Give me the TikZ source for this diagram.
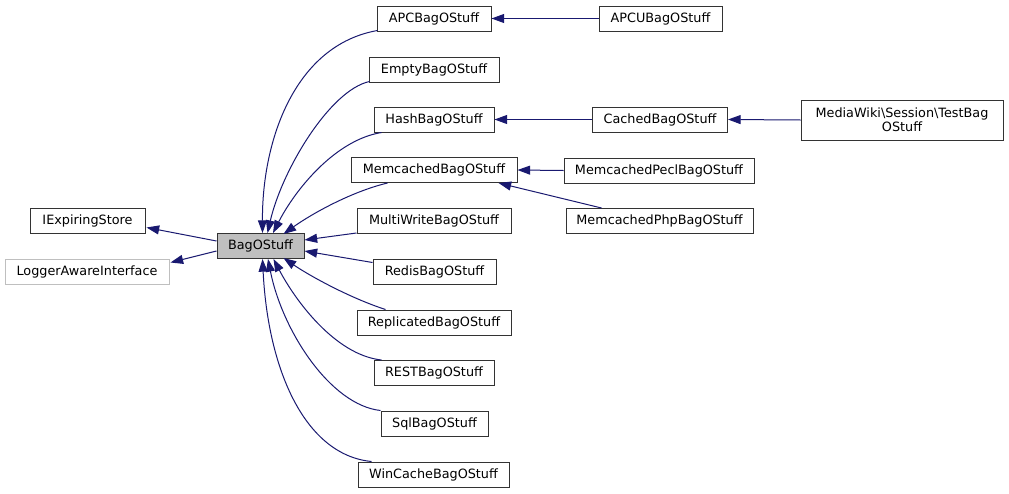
\documentclass[tikz,border=0pt]{standalone}
\usepackage{fontspec}
\setmainfont{DejaVu Sans}
\usetikzlibrary{arrows.meta,calc}
\definecolor{edgeblue}{HTML}{191970}
\definecolor{boxgray}{HTML}{BFBFBF}
\definecolor{boxline}{HTML}{333333}
\tikzset{
  cls/.style={draw=boxline, line width=0.75pt, fill=white, inner sep=0pt, minimum height=18.75pt, align=center, font=\fontsize{9.6pt}{10.5pt}\selectfont},
  bw/.style={minimum width=#1*0.75pt},
  bh/.style={minimum height=#1*0.75pt},
  ext/.style={cls, draw=boxgray},
  cur/.style={cls, fill=boxgray},
  edge/.style={draw=edgeblue, line width=0.75pt, {Triangle[length=9.5pt,width=6.75pt,fill=edgeblue]}-},
}
\begin{document}
\begin{tikzpicture}[x=0.75pt,y=-0.75pt]
\useasboundingbox[fill=white] (0,0) rectangle (1009,493);
% nodes
\node[cls, bw=115] (iexp) at (87.5,220.5) {IExpiringStore};
\node[ext, bw=164] (logger) at (87,271.5) {LoggerAwareInterface};
\node[cur, bw=87] (bag) at (260.5,246) {BagOStuff};
\node[cls, bw=114] (apc) at (434,18.5) {APCBagOStuff};
\node[cls, bw=123] (apcu) at (660.5,18.5) {APCUBagOStuff};
\node[cls, bw=130] (empty) at (434,69.5) {EmptyBagOStuff};
\node[cls, bw=120] (hash) at (434,119.5) {HashBagOStuff};
\node[cls, bw=135] (cached) at (660,119.5) {CachedBagOStuff};
\node[cls, bw=202, bh=40] (test) at (902,120) {MediaWiki\textbackslash Session\textbackslash TestBag\\OStuff};
\node[cls, bw=166] (memc) at (434,170) {MemcachedBagOStuff};
\node[cls, bw=190] (pecl) at (659,170.5) {MemcachedPeclBagOStuff};
\node[cls, bw=187] (php) at (659.5,221) {MemcachedPhpBagOStuff};
\node[cls, bw=154] (multi) at (434,221) {MultiWriteBagOStuff};
\node[cls, bw=123] (redis) at (434.5,271.5) {RedisBagOStuff};
\node[cls, bw=154] (repl) at (434,322.5) {ReplicatedBagOStuff};
\node[cls, bw=120] (rest) at (434,373) {RESTBagOStuff};
\node[cls, bw=107] (sql) at (434.5,423.5) {SqlBagOStuff};
\node[cls, bw=151] (win) at (433.5,474.5) {WinCacheBagOStuff};
% edges to interfaces
\draw[edge] ($(iexp.east)+(1,7)$) -- ($(bag.west)+(0,-5)$);
\draw[edge] ($(logger.east)+(1,-9)$) -- ($(bag.west)+(0,5)$);
% curved edges up
\draw[edge] ($(bag.north)+(2,0)$) .. controls (262,140) and (295,45) .. ($(apc.south west)+(1,-1)$);
\draw[edge] ($(bag.north)+(7,0)$) .. controls (282,170) and (330,90) .. ($(empty.south west)+(1,-1)$);
\draw[edge] ($(bag.north)+(12.5,0)$) .. controls (295,190) and (335,140) .. ($(hash.south west)+(8,0)$);
\draw[edge] ($(bag.north)+(23,1)$) .. controls (310,215) and (350,192) .. ($(memc.south west)+(37,0)$);
\draw[edge] ($(bag.east)+(0,-6)$) -- ($(multi.south west)+(0,-1)$);
\draw[edge] ($(bag.east)+(0,5)$) -- ($(redis.north west)+(0,4)$);
% curved edges down
\draw[edge] ($(bag.south)+(23,-1)$) .. controls (310,276) and (350,298) .. ($(repl.north west)+(29,0)$);
\draw[edge] ($(bag.south)+(13,0)$) .. controls (295,300) and (335,355) .. ($(rest.north west)+(8,0)$);
\draw[edge] ($(bag.south)+(7.5,0)$) .. controls (282,330) and (330,405) .. (sql.north west);
\draw[edge] ($(bag.south)+(2,0)$) .. controls (268,370) and (305,455) .. ($(win.north west)+(14,0)$);
% horizontal edges
\draw[edge] (apc.east) -- (apcu.west);
\draw[edge] (hash.east) -- (cached.west);
\draw[edge] (cached.east) -- (test.west);
\draw[edge] (memc.east) -- (pecl.west);
\draw[edge] ($(memc.south east)+(-19,0)$) -- ($(php.north west)+(36,0)$);
\end{tikzpicture}
\end{document}
